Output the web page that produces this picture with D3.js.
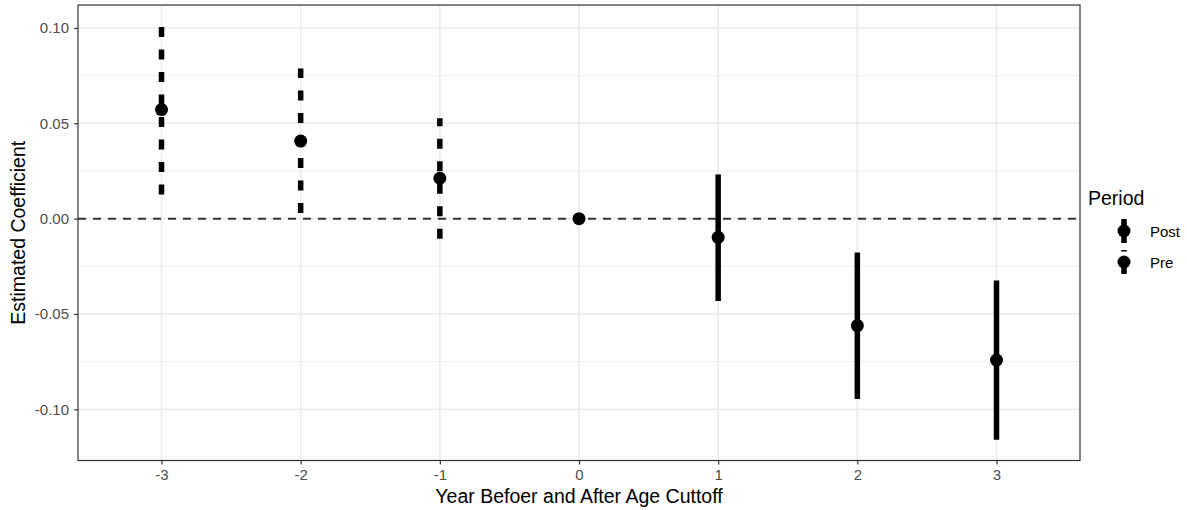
<!DOCTYPE html>
<html>
<head>
<meta charset="utf-8">
<script src="https://cdn.jsdelivr.net/npm/d3@7"></script>
<style>
  html, body { margin: 0; padding: 0; background: #fff; }
  svg { display: block; font-family: "Liberation Sans", Arial, Helvetica, sans-serif; }
</style>
</head>
<body>
<svg id="chart" width="1187" height="510"></svg>
<script>
// Event-study coefficients by year relative to the age cutoff
const years     = ["-3", "-2", "-1", "0", "1", "2", "3"];
const estimates = [0.0572, 0.0407, 0.0212, 0.0000, -0.0098, -0.0561, -0.0742];
const lower     = [0.0126, 0.0030, -0.0105, 0.0000, -0.0432, -0.0946, -0.1160];
const upper     = [0.1012, 0.0788, 0.0526, 0.0000, 0.0232, -0.0177, -0.0325];
const period    = ["Pre", "Pre", "Pre", "Pre", "Post", "Post", "Post"];

const yTicks = [-0.10, -0.05, 0.00, 0.05, 0.10];
const yMinor = [-0.125, -0.075, -0.025, 0.025, 0.075];
const periodLevels = ["Post", "Pre"];

const rows = years.map((yr, i) => ({
  year: yr, est: estimates[i], lo: lower[i], hi: upper[i], period: period[i]
}));

const svg = d3.select("#chart");
const panel = { left: 78, right: 1080, top: 5, bottom: 460.5 };
const tickFont = "15px", titleFont = "19.5px";
const preDash = "10 12.5";

// discrete x with 0.6 additive expansion on each side
const x = d3.scalePoint()
  .domain(years)
  .range([panel.left, panel.right])
  .padding(0.6);

// continuous y with 5% multiplicative expansion
const yLo = d3.min(lower), yHi = d3.max(upper);
const pad = (yHi - yLo) * 0.05;
const y = d3.scaleLinear()
  .domain([yLo - pad, yHi + pad])
  .range([panel.bottom, panel.top]);

const dashFor = p => p === "Pre" ? preDash : null;

// panel background + grid
const g = svg.append("g");
g.append("rect")
  .attr("x", panel.left).attr("y", panel.top)
  .attr("width", panel.right - panel.left).attr("height", panel.bottom - panel.top)
  .attr("fill", "#fff");

const minorVisible = yMinor.filter(v => v >= y.domain()[0] && v <= y.domain()[1]);
g.selectAll(".minor").data(minorVisible).join("line")
  .attr("x1", panel.left).attr("x2", panel.right)
  .attr("y1", d => y(d)).attr("y2", d => y(d))
  .attr("stroke", "#ebebeb").attr("stroke-width", 0.8);

g.selectAll(".majorY").data(yTicks).join("line")
  .attr("x1", panel.left).attr("x2", panel.right)
  .attr("y1", d => y(d)).attr("y2", d => y(d))
  .attr("stroke", "#ebebeb").attr("stroke-width", 1.6);

g.selectAll(".majorX").data(years).join("line")
  .attr("x1", d => x(d)).attr("x2", d => x(d))
  .attr("y1", panel.top).attr("y2", panel.bottom)
  .attr("stroke", "#ebebeb").attr("stroke-width", 1.6);

// reference line at zero
g.append("line")
  .attr("x1", panel.left).attr("x2", panel.right)
  .attr("y1", y(0)).attr("y2", y(0))
  .attr("stroke", "#333").attr("stroke-width", 2)
  .attr("stroke-dasharray", "8 7");

// confidence intervals, drawn from lower to upper bound
g.selectAll(".ci").data(rows.filter(d => d.hi !== d.lo)).join("line")
  .attr("x1", d => x(d.year)).attr("x2", d => x(d.year))
  .attr("y1", d => y(d.lo)).attr("y2", d => y(d.hi))
  .attr("stroke", "#000").attr("stroke-width", 5.5)
  .attr("stroke-dasharray", d => dashFor(d.period));

// point estimates
g.selectAll(".pt").data(rows).join("circle")
  .attr("cx", d => x(d.year)).attr("cy", d => y(d.est))
  .attr("r", 6.5).attr("fill", "#000");

// panel border
g.append("rect")
  .attr("x", panel.left).attr("y", panel.top)
  .attr("width", panel.right - panel.left).attr("height", panel.bottom - panel.top)
  .attr("fill", "none").attr("stroke", "#333").attr("stroke-width", 1.2);

// axes
const xAxis = svg.append("g")
  .attr("transform", `translate(0,${panel.bottom})`)
  .call(d3.axisBottom(x).tickSize(4).tickPadding(5));
const yAxis = svg.append("g")
  .attr("transform", `translate(${panel.left},0)`)
  .call(d3.axisLeft(y).tickValues(yTicks).tickSize(4).tickPadding(5));

[xAxis, yAxis].forEach(a => {
  a.select(".domain").remove();
  a.selectAll(".tick line").attr("stroke", "#333").attr("stroke-width", 1.2);
  a.selectAll(".tick text").attr("fill", "#4d4d4d").style("font-size", tickFont)
    .style("font-family", "'Liberation Sans', Arial, sans-serif");
});
yAxis.selectAll(".tick text").text(d => d < 0 ? "-" + d3.format(".2f")(-d) : d3.format(".2f")(d));
xAxis.selectAll(".tick text").text(d => d);

// axis titles
svg.append("text")
  .attr("x", (panel.left + panel.right) / 2).attr("y", 503)
  .attr("text-anchor", "middle").attr("fill", "#000")
  .style("font-size", titleFont)
  .text("Year Befoer and After Age Cuttoff");

svg.append("text")
  .attr("transform", `translate(25,${(panel.top + panel.bottom) / 2}) rotate(-90)`)
  .attr("text-anchor", "middle").attr("fill", "#000")
  .style("font-size", titleFont)
  .text("Estimated Coefficient");

// legend
const legend = svg.append("g").attr("transform", "translate(1088,0)");
legend.append("text")
  .attr("x", 0).attr("y", 205)
  .attr("fill", "#000").style("font-size", titleFont)
  .text("Period");

const keyStep = 31, keyTop = 219, keyH = 24;
const keys = legend.selectAll(".key").data(periodLevels).join("g")
  .attr("transform", (d, i) => `translate(0,${keyTop + i * keyStep})`);

keys.append("line")
  .attr("x1", 36).attr("x2", 36)
  .attr("y1", keyH).attr("y2", 0)
  .attr("stroke", "#000").attr("stroke-width", 5.5)
  .attr("stroke-dasharray", d => dashFor(d));

keys.append("circle")
  .attr("cx", 36).attr("cy", keyH / 2)
  .attr("r", 6.5).attr("fill", "#000");

keys.append("text")
  .attr("x", 62).attr("y", keyH / 2 + 5.5)
  .attr("fill", "#000").style("font-size", tickFont)
  .text(d => d);
</script>
</body>
</html>
